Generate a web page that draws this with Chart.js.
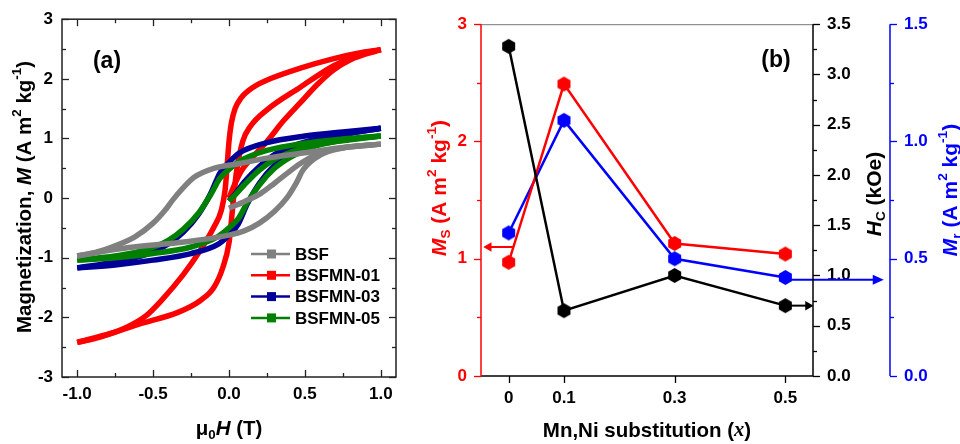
<!DOCTYPE html>
<html><head><meta charset="utf-8">
<script src="https://cdn.jsdelivr.net/npm/chart.js@4/dist/chart.umd.min.js"></script>
<style>
html,body{margin:0;padding:0;background:#fff;width:960px;height:444px;overflow:hidden}
#wa{position:absolute;left:0;top:0;width:420px;height:444px}
#wb{position:absolute;left:420px;top:0;width:540px;height:444px}
</style></head><body>
<div id="wa"><canvas id="ca"></canvas></div>
<div id="wb"><canvas id="cb"></canvas></div>
<script>
// ---------- Panel (a): M–H loops ----------
const sampleNames = ['BSF', 'BSFMN-01', 'BSFMN-03', 'BSFMN-05'];
const sampleColors = ['#808080', '#ff0000', '#000099', '#008000'];

const bsfDescH = [-1, -0.88, -0.77, -0.62, -0.5, -0.42, -0.37, -0.31, -0.23, -0.1, 0.07, 0.25, 0.5, 0.75, 1];
const bsfDescM = [-0.97, -0.91, -0.82, -0.65, -0.42, -0.2, -0.03, 0.15, 0.35, 0.5, 0.58, 0.67, 0.76, 0.85, 0.905];
const bsfAscH = [-1, -0.66, -0.31, 0, 0.1, 0.2, 0.3, 0.38, 0.44, 0.49, 0.6, 0.75, 1];
const bsfAscM = [-0.97, -0.83, -0.74, -0.62, -0.55, -0.42, -0.22, 0.0, 0.24, 0.48, 0.72, 0.84, 0.905];
const bsfVirgH = [0, 0.1, 0.21, 0.3, 0.38, 0.47, 0.6, 0.8, 1];
const bsfVirgM = [-0.17, -0.06, 0.08, 0.25, 0.41, 0.58, 0.76, 0.86, 0.905];

const mn01DescH = [-1, -0.85, -0.67, -0.55, -0.45, -0.3, -0.19, -0.1, -0.05, -0.025, -0.012, 0, 0.015, 0.04, 0.08, 0.16, 0.27, 0.47, 0.69, 0.85, 1];
const mn01DescM = [-2.42, -2.33, -2.16, -1.98, -1.73, -1.28, -0.88, -0.49, -0.2, 0.15, 0.55, 0.95, 1.25, 1.5, 1.68, 1.86, 2.0, 2.18, 2.34, 2.43, 2.49];
const mn01AscH = [-1, -0.78, -0.56, -0.34, -0.19, -0.1, -0.04, 0, 0.015, 0.03, 0.05, 0.09, 0.14, 0.25, 0.47, 0.69, 0.85, 1];
const mn01AscM = [-2.42, -2.27, -2.09, -1.92, -1.72, -1.5, -1.16, -0.75, -0.4, 0.0, 0.45, 0.95, 1.2, 1.48, 1.86, 2.22, 2.4, 2.49];
const mn01VirgH = [0, 0.03, 0.08, 0.16, 0.25, 0.36, 0.47, 0.58, 0.69, 0.8, 1];
const mn01VirgM = [0, 0.19, 0.45, 0.7, 0.95, 1.3, 1.6, 1.9, 2.15, 2.32, 2.49];

const mn03DescH = [-1, -0.75, -0.55, -0.4, -0.3, -0.2, -0.12, -0.06, 0, 0.07, 0.25, 0.5, 0.75, 1];
const mn03DescM = [-1.17, -1.07, -0.95, -0.77, -0.57, -0.27, 0.08, 0.42, 0.6, 0.76, 0.93, 1.04, 1.11, 1.17];
const mn03AscH = [-1, -0.75, -0.5, -0.25, -0.07, 0, 0.06, 0.12, 0.2, 0.3, 0.4, 0.55, 0.75, 1];
const mn03AscM = [-1.17, -1.12, -1.04, -0.93, -0.77, -0.62, -0.44, -0.1, 0.25, 0.55, 0.75, 0.93, 1.06, 1.17];
const mn03VirgH = [0, 0.05, 0.1, 0.2, 0.3, 0.45, 0.6, 0.8, 1];
const mn03VirgM = [-0.05, 0.1, 0.27, 0.53, 0.73, 0.9, 1.0, 1.09, 1.17];

const mn05DescH = [-1, -0.75, -0.55, -0.4, -0.3, -0.2, -0.12, -0.06, 0, 0.07, 0.25, 0.5, 0.75, 1];
const mn05DescM = [-1.04, -0.97, -0.87, -0.71, -0.52, -0.25, 0.06, 0.33, 0.48, 0.62, 0.8, 0.92, 0.99, 1.04];
const mn05AscH = [-1, -0.75, -0.5, -0.25, -0.07, 0, 0.06, 0.12, 0.2, 0.3, 0.4, 0.55, 0.75, 1];
const mn05AscM = [-1.04, -1.0, -0.93, -0.82, -0.64, -0.5, -0.35, -0.08, 0.22, 0.5, 0.68, 0.86, 0.97, 1.04];
const mn05VirgH = [0, 0.05, 0.1, 0.2, 0.3, 0.45, 0.6, 0.8, 1];
const mn05VirgM = [-0.05, 0.08, 0.22, 0.47, 0.65, 0.81, 0.91, 0.98, 1.04];

const fieldTicks = [-1, -0.5, 0, 0.5, 1];
const fieldMinor = [-0.75, -0.25, 0.25, 0.75];
const magTicks = [-3, -2, -1, 0, 1, 2, 3];
const magMinor = [-2.5, -1.5, -0.5, 0.5, 1.5, 2.5];

// ---------- Panel (b): vs composition ----------
const compositions = [0, 0.1, 0.3, 0.5];
const msValues = [0.97, 2.49, 1.13, 1.04];
const hcValues = [3.28, 0.65, 1.0, 0.70];
const mrValues = [0.61, 1.09, 0.50, 0.42];
const compTicks = [0, 0.1, 0.3, 0.5];
const msTicks = [0, 1, 2, 3];
const msMinor = [0.5, 1.5, 2.5];
const hcTicks = [0, 0.5, 1, 1.5, 2, 2.5, 3, 3.5];
const hcMinor = [0.25, 0.75, 1.25, 1.75, 2.25, 2.75, 3.25];
const mrTicks = [0, 0.5, 1, 1.5];
const mrMinor = [0.25, 0.75, 1.25];
// arrows pointing to the matching axis
const msArrowX = [0.008, -0.036], msArrowY = [1.10, 1.10];
const hcArrowX = [0.5, 0.541], hcArrowY = [0.70, 0.70];
const mrArrowX = [0.5, 0.667], mrArrowY = [0.41, 0.41];

const SANS = '"Liberation Sans", Arial, sans-serif';
const SERIF = '"Liberation Serif", "Times New Roman", serif';

function pts(xs, ys) { return xs.map((x, i) => ({x, y: ys[i]})); }

function richText(ctx, segs, cx, cy, size, rotate, color) {
  ctx.save();
  ctx.translate(cx, cy);
  if (rotate) ctx.rotate(-Math.PI / 2);
  const parts = segs.map(s => {
    const fs = (s.sup || s.sub) ? size * 0.65 : size;
    const font = (s.it ? 'italic ' : '') + 'bold ' + fs + 'px ' + (s.serif ? SERIF : SANS);
    ctx.font = font;
    return {s, font, w: ctx.measureText(s.t).width};
  });
  const total = parts.reduce((a, p) => a + p.w, 0);
  let x = -total / 2;
  ctx.textBaseline = 'middle'; ctx.textAlign = 'left'; ctx.fillStyle = color;
  for (const p of parts) {
    ctx.font = p.font;
    const dy = p.s.sup ? -size * 0.38 : (p.s.sub ? size * 0.3 : 0);
    ctx.fillText(p.s.t, x, dy);
    x += p.w;
  }
  ctx.restore();
}

function hexImage(color, r) {
  const c = document.createElement('canvas');
  const s = Math.ceil(2 * r + 2);
  c.width = s; c.height = s;
  const g = c.getContext('2d');
  g.fillStyle = color;
  g.beginPath();
  for (let k = 0; k < 6; k++) {
    const a = -Math.PI / 2 + k * Math.PI / 3;
    const px = s / 2 + r * Math.cos(a), py = s / 2 + r * Math.sin(a);
    k ? g.lineTo(px, py) : g.moveTo(px, py);
  }
  g.closePath(); g.fill();
  return c;
}

// ---------- Chart (a) ----------
const loops = [
  [bsfDescH, bsfDescM, bsfAscH, bsfAscM, bsfVirgH, bsfVirgM],
  [mn01DescH, mn01DescM, mn01AscH, mn01AscM, mn01VirgH, mn01VirgM],
  [mn03DescH, mn03DescM, mn03AscH, mn03AscM, mn03VirgH, mn03VirgM],
  [mn05DescH, mn05DescM, mn05AscH, mn05AscM, mn05VirgH, mn05VirgM]
];
const drawOrder = [0, 3, 2, 1];
const dsA = [];
loops.forEach((L, i) => {
  for (let b = 0; b < 3; b++) {
    dsA.push({
      label: sampleNames[i],
      data: pts(L[2 * b], L[2 * b + 1]),
      borderColor: sampleColors[i],
      backgroundColor: sampleColors[i],
      borderWidth: 5.5,
      pointRadius: 0,
      showLine: true,
      tension: 0.4,
      cubicInterpolationMode: 'monotone',
      order: drawOrder[i]
    });
  }
});

const panelAPlugin = {
  id: 'panelA',
  afterDraw(chart) {
    const {ctx, chartArea: a, scales: {x, y}} = chart;
    ctx.save();
    ctx.strokeStyle = '#222'; ctx.lineWidth = 1.5;
    ctx.strokeRect(a.left, a.top, a.right - a.left, a.bottom - a.top);
    ctx.lineWidth = 1.3;
    const tick = (x1, y1, x2, y2) => { ctx.beginPath(); ctx.moveTo(x1, y1); ctx.lineTo(x2, y2); ctx.stroke(); };
    fieldTicks.concat(fieldMinor).forEach(v => {
      const len = fieldTicks.includes(v) ? 7 : 4;
      const px = Math.round(x.getPixelForValue(v)) + 0.5;
      tick(px, a.bottom, px, a.bottom - len);
      tick(px, a.top, px, a.top + len);
    });
    magTicks.concat(magMinor).forEach(v => {
      const len = magTicks.includes(v) ? 7 : 4;
      const py = Math.round(y.getPixelForValue(v)) + 0.5;
      tick(a.left, py, a.left + len, py);
      tick(a.right, py, a.right - len, py);
    });
    // legend
    const ly0 = 254, lstep = 21.3;
    sampleNames.forEach((n, i) => {
      const ly = ly0 + i * lstep;
      ctx.strokeStyle = sampleColors[i]; ctx.lineWidth = 2.5;
      tick(251, ly, 290, ly);
      ctx.fillStyle = sampleColors[i];
      ctx.fillRect(267, ly - 4.5, 9, 9);
      ctx.fillStyle = '#000'; ctx.font = 'bold 17px ' + SANS;
      ctx.textBaseline = 'middle'; ctx.textAlign = 'left';
      ctx.fillText(n, 295, ly + 1);
    });
    ctx.restore();
    richText(ctx, [{t: '(a)'}], 107, 62, 23, false, '#000');
    richText(ctx, [{t: 'Magnetization, '}, {t: 'M', it: true}, {t: ' (A m'}, {t: '2', sup: true}, {t: ' kg'}, {t: '-1', sup: true}, {t: ')'}], 25, 197, 20.5, true, '#000');
    richText(ctx, [{t: 'μ'}, {t: '0', sub: true}, {t: 'H', it: true}, {t: ' (T)'}], 229, 429, 20.5, false, '#000');
  }
};

new Chart(document.getElementById('ca'), {
  type: 'scatter',
  data: {datasets: dsA},
  options: {
    responsive: true, maintainAspectRatio: false, animation: false, devicePixelRatio: 1,
    layout: {padding: {left: 0, top: 19, right: 24, bottom: 0}},
    plugins: {legend: {display: false}, tooltip: {enabled: false}},
    scales: {
      x: {
        type: 'linear', min: -1.1, max: 1.1,
        grid: {display: false, drawTicks: false}, border: {display: false},
        afterBuildTicks: s => { s.ticks = fieldTicks.map(v => ({value: v})); },
        afterFit: s => { s.height = 67; },
        ticks: {color: '#000', font: {family: SANS, size: 17, weight: 'bold'}, padding: 7, maxRotation: 0,
                callback: v => v.toFixed(1)}
      },
      y: {
        type: 'linear', min: -3, max: 3,
        grid: {display: false, drawTicks: false}, border: {display: false},
        afterBuildTicks: s => { s.ticks = magTicks.map(v => ({value: v})); },
        afterFit: s => { s.width = 62; },
        ticks: {color: '#000', font: {family: SANS, size: 17, weight: 'bold'}, padding: 9,
                callback: v => String(v)}
      }
    }
  },
  plugins: [panelAPlugin]
});

// ---------- Chart (b) ----------
const hexBlack = hexImage('#000000', 7.5), hexRed = hexImage('#ff0000', 7.5), hexBlue = hexImage('#0000ff', 7.5);
function arrowDs(xs, ys, axis, color, rot) {
  return {
    data: pts(xs, ys), yAxisID: axis, borderColor: color, backgroundColor: color,
    borderWidth: 2, showLine: true, clip: false,
    pointStyle: 'triangle', pointRadius: [0, 5.5], rotation: [0, rot], pointBorderWidth: 0
  };
}
const dsB = [
  {label: 'Hc', data: pts(compositions, hcValues), yAxisID: 'hc', borderColor: '#000', backgroundColor: '#000',
   borderWidth: 2.5, showLine: true, pointStyle: hexBlack, pointRadius: 7.5},
  {label: 'Ms', data: pts(compositions, msValues), yAxisID: 'ms', borderColor: '#ff0000', backgroundColor: '#ff0000',
   borderWidth: 2.5, showLine: true, pointStyle: hexRed, pointRadius: 7.5},
  {label: 'Mr', data: pts(compositions, mrValues), yAxisID: 'mr', borderColor: '#0000ff', backgroundColor: '#0000ff',
   borderWidth: 2.5, showLine: true, pointStyle: hexBlue, pointRadius: 7.5},
  arrowDs(msArrowX, msArrowY, 'ms', '#ff0000', -90),
  arrowDs(hcArrowX, hcArrowY, 'hc', '#000000', 90),
  arrowDs(mrArrowX, mrArrowY, 'mr', '#0000ff', 90)
];

const panelBPlugin = {
  id: 'panelB',
  afterDraw(chart) {
    const {ctx, chartArea: a, scales: {x, ms, hc, mr}} = chart;
    ctx.save();
    const line = (x1, y1, x2, y2) => { ctx.beginPath(); ctx.moveTo(x1, y1); ctx.lineTo(x2, y2); ctx.stroke(); };
    // top line
    ctx.strokeStyle = '#777'; ctx.lineWidth = 1;
    line(a.left, a.top + 0.5, a.right, a.top + 0.5);
    // bottom axis
    ctx.strokeStyle = '#000'; ctx.lineWidth = 1.5;
    line(a.left, a.bottom, a.right, a.bottom);
    ctx.lineWidth = 1.3;
    compTicks.forEach(v => { const px = Math.round(x.getPixelForValue(v)) + 0.5; line(px, a.bottom, px, a.bottom + 7); });
    // left red axis
    ctx.strokeStyle = '#ff0000'; ctx.lineWidth = 1.5;
    line(a.left, a.top, a.left, a.bottom);
    ctx.lineWidth = 1.3;
    msTicks.concat(msMinor).forEach(v => {
      const len = msTicks.includes(v) ? 7 : 4;
      const py = Math.round(ms.getPixelForValue(v)) + 0.5; line(a.left, py, a.left - len, py);
    });
    // right black axis
    ctx.strokeStyle = '#000'; ctx.lineWidth = 1.5;
    line(a.right, a.top, a.right, a.bottom);
    ctx.lineWidth = 1.3;
    hcTicks.concat(hcMinor).forEach(v => {
      const len = hcTicks.includes(v) ? 7 : 4;
      const py = Math.round(hc.getPixelForValue(v)) + 0.5; line(a.right, py, a.right + len, py);
    });
    // blue axis
    const bx = mr.left;
    ctx.strokeStyle = '#0000ff'; ctx.lineWidth = 1.5;
    line(bx, a.top, bx, a.bottom);
    ctx.lineWidth = 1.3;
    mrTicks.concat(mrMinor).forEach(v => {
      const len = mrTicks.includes(v) ? 7 : 4;
      const py = Math.round(mr.getPixelForValue(v)) + 0.5; line(bx, py, bx + len, py);
    });
    // arrowhead of the Mr arrow (lies outside the plot area, so the point element is not drawn)
    const tx = x.getPixelForValue(mrArrowX[1]), ty = mr.getPixelForValue(mrArrowY[1]);
    ctx.fillStyle = '#0000ff';
    ctx.beginPath(); ctx.moveTo(tx + 6, ty); ctx.lineTo(tx - 5, ty - 5); ctx.lineTo(tx - 5, ty + 5); ctx.closePath(); ctx.fill();
    ctx.restore();
    richText(ctx, [{t: '(b)'}], 356, 61, 23, false, '#000');
    richText(ctx, [{t: 'M', it: true}, {t: 'S', sub: true}, {t: ' (A m'}, {t: '2', sup: true}, {t: ' kg'}, {t: '-1', sup: true}, {t: ')'}], 20, 188, 21, true, '#ff0000');
    richText(ctx, [{t: 'H', it: true}, {t: 'C', sub: true}, {t: ' (kOe)'}], 455, 194, 21, true, '#000');
    richText(ctx, [{t: 'M', it: true}, {t: 'r', sub: true}, {t: ' (A m'}, {t: '2', sup: true}, {t: ' kg'}, {t: '-1', sup: true}, {t: ')'}], 531, 190, 21, true, '#0000ff');
    richText(ctx, [{t: 'Mn,Ni substitution ('}, {t: 'x', it: true, serif: true}, {t: ')'}], 227, 431, 20.5, false, '#000');
  }
};

new Chart(document.getElementById('cb'), {
  type: 'scatter',
  data: {datasets: dsB},
  options: {
    responsive: true, maintainAspectRatio: false, animation: false, devicePixelRatio: 1,
    layout: {padding: {left: 0, top: 19, right: 0, bottom: 0}},
    plugins: {legend: {display: false}, tooltip: {enabled: false}},
    scales: {
      x: {
        type: 'linear', min: -0.05, max: 0.55,
        grid: {display: false, drawTicks: false}, border: {display: false},
        afterBuildTicks: s => { s.ticks = compTicks.map(v => ({value: v})); },
        afterFit: s => { s.height = 68; },
        ticks: {color: '#000', font: {family: SANS, size: 17, weight: 'bold'}, padding: 12, maxRotation: 0,
                callback: v => v === 0 ? '0' : String(v)}
      },
      ms: {
        type: 'linear', position: 'left', min: 0, max: 3,
        grid: {display: false, drawTicks: false}, border: {display: false},
        afterBuildTicks: s => { s.ticks = msTicks.map(v => ({value: v})); },
        afterFit: s => { s.width = 61; },
        ticks: {color: '#ff0000', font: {family: SANS, size: 17, weight: 'bold'}, padding: 14, callback: v => String(v)}
      },
      hc: {
        type: 'linear', position: 'right', weight: 0, min: 0, max: 3.5,
        grid: {display: false, drawTicks: false}, border: {display: false},
        afterBuildTicks: s => { s.ticks = hcTicks.map(v => ({value: v})); },
        afterFit: s => { s.width = 77; },
        ticks: {color: '#000', font: {family: SANS, size: 17, weight: 'bold'}, padding: 14, callback: v => v.toFixed(1)}
      },
      mr: {
        type: 'linear', position: 'right', weight: 1, min: 0, max: 1.5,
        grid: {display: false, drawTicks: false}, border: {display: false},
        afterBuildTicks: s => { s.ticks = mrTicks.map(v => ({value: v})); },
        afterFit: s => { s.width = 70; },
        ticks: {color: '#0000ff', font: {family: SANS, size: 17, weight: 'bold'}, padding: 14, callback: v => v.toFixed(1)}
      }
    }
  },
  plugins: [panelBPlugin]
});
</script>
</body></html>
